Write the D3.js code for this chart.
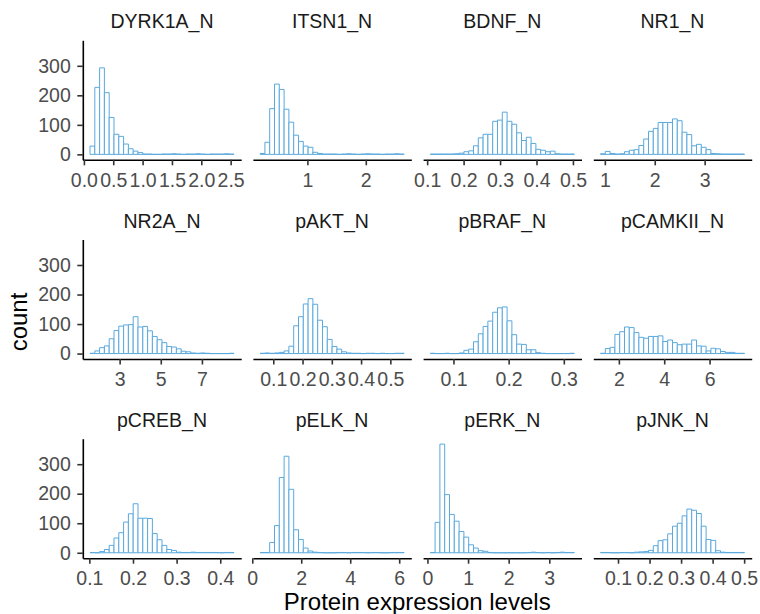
<!DOCTYPE html>
<html>
<head>
<meta charset="utf-8">
<script src="https://cdn.jsdelivr.net/npm/d3@7"></script>
<style>
  html, body { margin: 0; padding: 0; background: #ffffff; }
  svg { display: block; font-family: "Liberation Sans", Arial, Helvetica, sans-serif; }
</style>
</head>
<body>
<svg id="chart" width="760" height="614"></svg>
<script>
// Protein expression histograms, one panel per protein (30 bins each).
const proteins = ["DYRK1A_N", "ITSN1_N", "BDNF_N", "NR1_N",
                  "NR2A_N", "pAKT_N", "pBRAF_N", "pCAMKII_N",
                  "pCREB_N", "pELK_N", "pERK_N", "pJNK_N"];

// Left edge of the first bin and the bin width for each protein
const binStarts = [0.104, 0.19, 0.1086, 0.913, 1.56, 0.055, 0.058, 1.19, 0.1015, 0.32, 0.07, 0.0445];
const binWidths = [0.08177, 0.0822, 0.01317, 0.0962, 0.2333, 0.0164, 0.0087, 0.2117, 0.011, 0.196, 0.1182, 0.01522];

// Bin counts
const dyrk1aCounts  = [28,227,293,209,125,68,61,35,19,11,6,1,1,0,0,1,1,2,1,0,1,1,2,1,0,1,1,1,2,1];
const itsn1Counts   = [3,41,155,238,220,153,109,65,44,28,24,7,3,1,1,1,0,1,2,1,0,1,2,1,1,0,1,1,2,1];
const bdnfCounts    = [1,1,1,1,1,2,4,9,12,29,56,68,68,112,116,143,112,102,73,47,58,37,17,14,9,11,2,1,1,1];
const nr1Counts     = [2,10,3,1,2,9,14,16,30,52,78,88,108,108,108,120,114,75,67,29,34,24,16,3,2,1,1,1,1,1];
const nr2aCounts    = [1,9,20,26,50,78,93,97,98,125,90,92,77,58,47,37,24,22,16,8,6,2,1,2,1,0,0,0,0,1];
const paktCounts    = [1,2,1,2,4,9,25,94,125,168,186,167,113,91,48,24,15,6,2,1,1,0,1,1,0,1,0,0,1,1];
const pbrafCounts   = [1,0,0,1,0,0,2,11,15,40,67,92,110,140,155,158,111,64,32,31,13,13,3,1,0,0,0,0,0,1];
const pcamkiiCounts = [1,17,21,65,74,90,88,71,55,52,58,58,60,41,46,37,30,32,32,46,26,25,9,18,16,7,4,4,1,1];
const pcrebCounts   = [1,0,4,11,25,50,68,104,132,166,117,117,116,65,44,25,11,8,2,1,1,2,1,1,1,1,1,0,1,1];
const pelkCounts    = [1,1,35,92,255,327,215,78,45,16,6,2,1,0,0,0,1,1,0,1,1,1,0,1,1,0,0,1,1,1];
const perkCounts    = [1,103,368,197,130,107,72,53,27,16,7,5,1,0,0,0,0,0,0,0,1,2,1,0,1,0,1,2,1,1];
const pjnkCounts    = [1,1,0,0,1,1,0,2,3,4,8,24,41,44,64,90,100,125,148,144,133,90,45,42,7,2,1,1,1,1];

const allCounts = [dyrk1aCounts, itsn1Counts, bdnfCounts, nr1Counts,
                   nr2aCounts, paktCounts, pbrafCounts, pcamkiiCounts,
                   pcrebCounts, pelkCounts, perkCounts, pjnkCounts];

// Tick labels for each panel's x axis and the shared y axis
const xTickLabels = [
  ["0.0", "0.5", "1.0", "1.5", "2.0", "2.5"],
  ["1", "2"],
  ["0.1", "0.2", "0.3", "0.4", "0.5"],
  ["1", "2", "3"],
  ["3", "5", "7"],
  ["0.1", "0.2", "0.3", "0.4", "0.5"],
  ["0.1", "0.2", "0.3"],
  ["2", "4", "6"],
  ["0.1", "0.2", "0.3", "0.4"],
  ["0", "2", "4", "6"],
  ["0", "1", "2", "3"],
  ["0.1", "0.2", "0.3", "0.4", "0.5"]
];
const yTickLabels = ["0", "100", "200", "300"];

const xTitle = "Protein expression levels";
const yTitle = "count";

// Layout
const nCols = 4;
const panelW = 158.4, panelH = 119.5;
const colX = [82.8, 252.9, 423.1, 593.3];
const rowY = [40.3, 239.5, 438.7];
const tickLen = 5.5;
const barStroke = "#5AA9DD";
const tickFont = 19.5;

const svg = d3.select("#chart");

// Shared y scale across panels
const maxCount = d3.max(allCounts, c => d3.max(c));
const y = d3.scaleLinear()
  .domain([-0.05 * maxCount, 1.05 * maxCount])
  .range([panelH, 0]);

proteins.forEach((name, i) => {
  const col = i % nCols, row = Math.floor(i / nCols);
  const g = svg.append("g").attr("transform", `translate(${colX[col]},${rowY[row]})`);

  const counts = allCounts[i];
  const start = binStarts[i], w = binWidths[i];
  const end = start + w * counts.length;
  const span = end - start;
  const x = d3.scaleLinear()
    .domain([start - 0.05 * span, end + 0.05 * span])
    .range([0, panelW]);

  const bins = counts.map((c, k) => ({ x0: start + k * w, x1: start + (k + 1) * w, n: c }));

  // Bars as closed paths so that empty bins still show their outline on the baseline
  g.append("g")
    .selectAll("path")
    .data(bins)
    .join("path")
    .attr("d", b => {
      const x0 = x(b.x0), x1 = x(b.x1), y0 = y(0), y1 = y(b.n);
      return `M${x0},${y0}V${y1}H${x1}V${y0}Z`;
    })
    .attr("fill", "#ffffff")
    .attr("stroke", barStroke)
    .attr("stroke-width", 1);

  // Strip title
  g.append("text")
    .attr("x", panelW / 2)
    .attr("y", -12)
    .attr("text-anchor", "middle")
    .attr("font-size", tickFont)
    .attr("fill", "#1a1a1a")
    .text(name);

  // Bottom axis
  const xa = g.append("g")
    .attr("transform", `translate(0,${panelH})`)
    .call(d3.axisBottom(x)
      .tickValues(xTickLabels[i].map(Number))
      .tickFormat((d, k) => xTickLabels[i][k])
      .tickSize(tickLen)
      .tickSizeOuter(0)
      .tickPadding(7.5));
  styleAxis(xa);

  // Left axis only on the first column
  if (col === 0) {
    const ya = g.append("g")
      .call(d3.axisLeft(y)
        .tickValues(yTickLabels.map(Number))
        .tickFormat((d, k) => yTickLabels[k])
        .tickSize(tickLen)
        .tickSizeOuter(0)
        .tickPadding(6.5));
    styleAxis(ya);
  }
});

function styleAxis(sel) {
  sel.select(".domain").attr("stroke", "#000000").attr("stroke-width", 1.6);
  sel.selectAll(".tick line").attr("stroke", "#333333").attr("stroke-width", 1.6);
  sel.selectAll(".tick text")
    .attr("fill", "#4d4d4d")
    .attr("font-size", tickFont)
    .attr("font-family", "Liberation Sans, Arial, sans-serif");
}

// Axis titles
svg.append("text")
  .attr("x", (colX[0] + colX[3] + panelW) / 2)
  .attr("y", 610)
  .attr("text-anchor", "middle")
  .attr("font-size", 24)
  .attr("fill", "#000000")
  .text(xTitle);

svg.append("text")
  .attr("transform", "translate(27,322) rotate(-90)")
  .attr("text-anchor", "middle")
  .attr("font-size", 24)
  .attr("fill", "#000000")
  .text(yTitle);
</script>
</body>
</html>
